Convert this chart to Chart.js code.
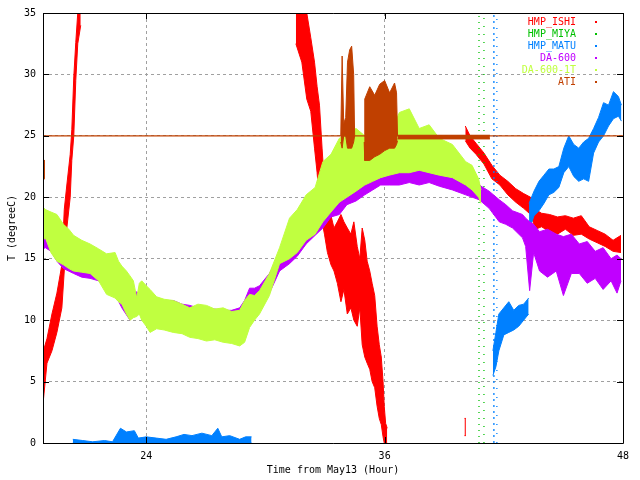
<!DOCTYPE html>
<html>
<head>
<meta charset="utf-8">
<script src="https://cdn.jsdelivr.net/npm/chart.js@4"></script>
<style>
  html, body { margin: 0; padding: 0; background: #fff; }
  canvas { display: block; }
</style>
</head>
<body>
<canvas id="chart" width="640" height="480"></canvas>
<script>
// axis ticks
const xTicks = [24, 36, 48];
const yTicks = [0, 5, 10, 15, 20, 25, 30, 35];

// HMP_ISHI (red) - low/high envelope of the noisy trace
const ishiRiseHour = [18.82, 19.0, 19.25, 19.5, 19.75, 19.87, 20.0, 20.17, 20.25, 20.35, 20.45, 20.55, 20.7];
const ishiRiseLow  = [3.5, 6.5, 7.5, 9, 11, 14, 17.5, 20, 23, 25, 29.5, 32.5, 34];
const ishiRiseHigh = [7.5, 8.5, 10.5, 12.2, 14.5, 19, 21, 23.5, 25.5, 29.8, 32.6, 35, 35];

const ishiFallHour = [31.53, 31.83, 32.08, 32.28, 32.47, 32.6, 32.72, 32.85, 32.97, 33.12, 33.3, 33.45, 33.62, 33.8, 33.95, 34.12, 34.3, 34.45, 34.62, 34.75, 34.87, 35.0, 35.12, 35.25, 35.37, 35.5, 35.62, 35.73, 35.83, 35.92, 35.98, 36.05, 36.13];
const ishiFallLow  = [32.5, 31, 28, 27, 24, 22, 19.5, 18, 17, 15.5, 14.5, 14, 13, 11.5, 12.5, 10.5, 11, 10, 9.5, 11, 8, 7, 6.5, 6, 5, 4.5, 3, 2, 1.5, 0.5, 0, 0, 0];
const ishiFallHigh = [35, 35, 35, 33, 31, 29, 27.5, 24, 21, 19.5, 18.5, 17.5, 18, 18.6, 18, 17.5, 17, 18, 16, 15, 17.5, 16.5, 14.8, 14, 13, 12, 9.5, 8, 7, 5, 3, 1.6, 1.2];

const ishiLateHour = [40.06, 40.3, 40.6, 41.0, 41.4, 41.8, 42.2, 42.6, 43.0, 43.35, 43.6, 43.9, 44.3, 44.7, 45.1, 45.5, 45.9, 46.3, 46.7, 47.1, 47.5, 47.9];
const ishiLateLow  = [24.6, 24.0, 23.5, 22.7, 21.5, 21.0, 20.2, 19.6, 19.1, 18.6, 17.4, 17.6, 17.2, 17.0, 17.4, 16.9, 17.0, 16.6, 16.3, 16.0, 15.6, 15.5];
const ishiLateHigh = [25.8, 25.0, 24.4, 23.6, 22.6, 21.8, 21.3, 20.7, 20.3, 20.0, 19.0, 18.7, 18.6, 18.4, 18.5, 18.3, 18.5, 17.6, 17.3, 17.0, 16.5, 16.9];

const ishiBlipHour = [40.02, 40.09];
const ishiBlipLow  = [0.6, 0.6];
const ishiBlipHigh = [2.0, 2.0];

// HMP_MIYA (green) and HMP_MATU (blue) - scattered dots in narrow columns
const miyaColumnHour = [40.75, 41.0];
const matuColumnHour = [41.5, 41.65];
const columnSpan = [0, 35];

// HMP_MATU (blue)
const matuLowHour = [20.3, 20.8, 21.3, 21.9, 22.3, 22.7, 23.0, 23.4, 23.6, 24.0, 24.5, 25.0, 25.5, 25.9, 26.3, 26.8, 27.3, 27.6, 27.8, 28.2, 28.7, 29.0, 29.3];
const matuLowHigh = [0.3, 0.2, 0.1, 0.2, 0.1, 1.2, 0.9, 1.0, 0.4, 0.5, 0.4, 0.3, 0.5, 0.7, 0.6, 0.8, 0.6, 1.2, 0.5, 0.6, 0.3, 0.5, 0.5];
const matuLowLow  = [0, 0, 0, 0, 0, 0, 0, 0, 0, 0, 0, 0, 0, 0, 0, 0, 0, 0, 0, 0, 0, 0, 0];

const matuMidHour = [41.45, 41.6, 41.75, 42.0, 42.25, 42.5, 42.75, 43.0, 43.25];
const matuMidLow  = [5.5, 6.2, 7.5, 8.8, 9.0, 9.2, 9.5, 10.0, 10.5];
const matuMidHigh = [7.5, 9, 10.5, 11, 11.5, 10.8, 11.2, 11.3, 11.8];

const matuLateHour = [43.27, 43.52, 43.77, 44.02, 44.27, 44.52, 44.77, 45.02, 45.27, 45.52, 45.77, 46.02, 46.27, 46.52, 46.77, 47.02, 47.27, 47.52, 47.77, 47.92];
const matuLateLow  = [17.3, 18.5, 18.9, 19.5, 20.2, 20.4, 20.8, 22.0, 22.5, 21.7, 21.3, 21.5, 21.3, 23.6, 24.5, 25.0, 25.8, 26.4, 26.6, 26.2];
const matuLateHigh = [19.5, 20.5, 21.3, 21.8, 22.3, 22.3, 22.5, 24.0, 25.0, 24.3, 24.0, 24.5, 24.8, 25.6, 26.5, 27.7, 27.5, 28.6, 28.2, 27.5];

// DA-600 (purple)
const da600Hour = [18.8, 18.92, 19.2, 19.5, 19.83, 20.34, 20.75, 21.17, 21.6, 22.0,
  22.43, 22.77, 23.18, 23.52, 23.77, 24.19, 24.52, 24.9, 25.36, 25.8,
  26.19, 26.6, 27.03, 27.45, 27.87, 28.3, 28.7, 28.95, 29.2, 29.45,
  29.7, 30.2, 30.71, 31.21, 31.6, 32.05, 32.5, 32.89, 33.3, 33.72,
  34.1, 34.56, 35.0, 35.4, 35.8, 36.23, 36.74, 37.24, 37.74, 38.24,
  38.75, 39.41, 40.08, 40.76, 41.26, 41.77, 42.1, 42.44, 42.94, 43.1,
  43.3, 43.5, 43.8, 44.2, 44.64, 45.0, 45.4, 45.8, 46.2, 46.6,
  47.0, 47.4, 47.7, 47.9];
const da600Low = [15.8, 15.9, 15.6, 14.8, 14.2, 13.8, 13.5, 13.4, 13.2, 12.6,
  12.1, 11.0, 10.0, 10.8, 10.5, 10.3, 10.2, 10.3, 10.2, 10.0,
  9.8, 9.8, 9.7, 9.5, 9.5, 9.4, 9.6, 10.0, 10.8, 11.0,
  11.2, 12.2, 14.0, 14.6, 15.2, 16.2, 16.9, 17.5, 18.4, 18.6,
  19.4, 19.7, 20.2, 20.6, 21.0, 21.0, 21.0, 21.2, 21.0, 21.2,
  20.9, 20.6, 20.2, 19.8, 19.1, 18.0, 17.8, 17.5, 16.7, 16.0,
  12.4, 15.5, 14.0, 13.5, 14.0, 12.0, 13.8, 13.8, 13.0, 13.4,
  12.5, 13.2, 12.2, 13.2];
const da600High = [17.3, 17.0, 16.6, 16.0, 15.4, 14.8, 14.6, 14.6, 14.3, 13.8,
  13.3, 12.6, 12.2, 12.3, 12.0, 11.8, 11.6, 11.6, 11.6, 11.3,
  11.2, 11.0, 10.9, 10.9, 10.8, 10.8, 11.0, 11.6, 12.6, 12.6,
  12.8, 13.8, 15.4, 16.0, 16.6, 17.5, 18.0, 18.6, 19.2, 19.6,
  20.3, 20.8, 21.3, 21.6, 22.0, 22.1, 22.2, 22.3, 22.2, 22.3,
  22.0, 21.8, 21.4, 21.0, 20.5, 19.8, 19.4, 18.9, 18.6, 18.3,
  18.0, 17.8, 17.2, 17.4, 17.0, 16.8, 17.0, 16.2, 16.4, 15.6,
  15.9, 15.0, 15.3, 15.0];

// DA-600-1T (yellow green)
const da1tHour = [18.8, 18.92, 19.2, 19.5, 19.83, 20.1, 20.34, 20.75, 21.17, 21.6,
  22.0, 22.43, 22.6, 22.77, 23.0, 23.18, 23.35, 23.52, 23.65, 23.77,
  24.0, 24.19, 24.52, 24.9, 25.36, 25.8, 26.19, 26.6, 27.03, 27.45,
  27.87, 28.3, 28.7, 28.95, 29.2, 29.45, 29.7, 30.2, 30.71, 31.21,
  31.6, 32.05, 32.5, 32.89, 33.3, 33.72, 34.1, 34.56, 35.0, 35.4,
  35.8, 36.23, 36.74, 37.24, 37.74, 38.24, 38.75, 39.41, 40.08, 40.4,
  40.73, 40.85];
const da1tHigh = [19.2, 19.0, 18.8, 18.6, 17.8, 17.4, 16.9, 16.5, 16.2, 15.8,
  15.4, 15.5, 14.8, 14.4, 14.0, 13.6, 13.2, 11.8, 13.0, 13.2,
  12.8, 12.5, 11.9, 11.7, 11.6, 11.3, 11.0, 11.3, 11.2, 10.9,
  11.0, 10.7, 10.8, 11.6, 12.1, 12.0, 12.4, 13.8, 15.9, 18.3,
  19.0, 20.2, 20.8, 22.9, 23.5, 24.8, 25.2, 25.6, 25.0, 24.8,
  24.6, 24.8, 26.9, 27.2, 25.6, 25.9, 24.8, 24.3, 22.9, 22.6,
  21.5, 20.6];
const da1tLow = [16.5, 16.7, 15.5, 14.8, 14.5, 14.2, 14.0, 13.9, 13.8, 13.2,
  12.1, 11.8, 11.5, 11.3, 10.5, 10.0, 10.2, 10.3, 10.5, 10.0,
  9.5, 9.0, 9.3, 9.2, 9.0, 8.9, 8.6, 8.5, 8.3, 8.4,
  8.2, 8.1, 7.9, 8.2, 9.4, 10.0, 10.5, 12.0, 14.6, 15.0,
  15.5, 16.5, 17.0, 18.0, 18.8, 19.6, 20.0, 20.5, 21.0, 21.3,
  21.6, 21.8, 22.0, 22.0, 22.2, 22.0, 21.8, 21.6, 21.0, 20.6,
  20.0, 19.5];

// ATI (brown orange)
const atiHour = [18.8, 48];
const atiTemp = [25, 25];
const atiEdgeHour = [18.82, 18.9];
const atiEdgeLow  = [21.5, 21.5];
const atiEdgeHigh = [23.0, 23.0];
const atiBurstAHour = [33.79, 33.86, 33.94, 34.04, 34.13, 34.24, 34.34, 34.44, 34.49];
const atiBurstALow  = [24.5, 24, 25, 25, 24, 24, 24, 24.5, 25];
const atiBurstAHigh = [25, 31.5, 26, 26.5, 31, 32, 32.3, 30, 25];
const atiBurstBHour = [34.97, 35.0, 35.25, 35.5, 35.75, 36.0, 36.25, 36.5, 36.6, 36.65];
const atiBurstBLow  = [24.5, 23.0, 23.0, 23.3, 23.5, 23.8, 24.0, 24.0, 24.3, 24.6];
const atiBurstBHigh = [25, 28.0, 29.0, 28.3, 29.2, 29.5, 28.5, 29.3, 28.5, 25];
const atiFlatHour = [36.65, 41.3];
const atiFlatLow  = [24.75, 24.75];
const atiFlatHigh = [25.05, 25.05];

const seriesNames  = ['HMP_ISHI', 'HMP_MIYA', 'HMP_MATU', 'DA-600', 'DA-600-1T', 'ATI'];
const seriesColors = ['#ff0000', '#00c000', '#0080ff', '#c000ff', '#c0ff40', '#c04000'];

function pts(hours, vals) {
  return hours.map((h, i) => ({ x: h, y: vals[i] }));
}

function band(color, hours, low, high, order) {
  return [
    { data: pts(hours, high), borderColor: color, backgroundColor: color, borderWidth: 1,
      pointRadius: 0, fill: '+1', order: order },
    { data: pts(hours, low), borderColor: color, backgroundColor: color, borderWidth: 1,
      pointRadius: 0, fill: false, order: order }
  ];
}

function column(color, hour, dash) {
  return { data: columnSpan.map(v => ({ x: hour, y: v })), borderColor: color, borderWidth: 1.3,
    borderDash: dash, pointRadius: 0, fill: false, order: 4 };
}

const red = seriesColors[0], green = seriesColors[1], blue = seriesColors[2];
const purple = seriesColors[3], lime = seriesColors[4], brown = seriesColors[5];

const datasets = [
  ...band(red, ishiRiseHour, ishiRiseLow, ishiRiseHigh, 5),
  ...band(red, ishiFallHour, ishiFallLow, ishiFallHigh, 5),
  ...band(red, ishiLateHour, ishiLateLow, ishiLateHigh, 5),
  ...band(red, ishiBlipHour, ishiBlipLow, ishiBlipHigh, 5),
  column(green, miyaColumnHour[0], [1, 5]),
  column(green, miyaColumnHour[1], [1, 7]),
  column(blue, matuColumnHour[0], [2, 4]),
  column(blue, matuColumnHour[1], [1, 8]),
  ...band(blue, matuLowHour, matuLowLow, matuLowHigh, 3),
  ...band(blue, matuMidHour, matuMidLow, matuMidHigh, 3),
  ...band(blue, matuLateHour, matuLateLow, matuLateHigh, 3),
  ...band(purple, da600Hour, da600Low, da600High, 2),
  ...band(lime, da1tHour, da1tLow, da1tHigh, 1),
  ...band(brown, atiEdgeHour, atiEdgeLow, atiEdgeHigh, 0),
  ...band(brown, atiBurstAHour, atiBurstALow, atiBurstAHigh, 0),
  ...band(brown, atiBurstBHour, atiBurstBLow, atiBurstBHigh, 0),
  ...band(brown, atiFlatHour, atiFlatLow, atiFlatHigh, 0),
  { data: pts(atiHour, atiTemp), borderColor: brown, borderWidth: 1.3, pointRadius: 0, fill: false, order: 0 }
];

const px = v => Math.round(v) + 0.5;

// gnuplot-like frame, inward ticks and key
const frame = {
  id: 'frame',
  afterDraw(chart) {
    const ctx = chart.ctx;
    const a = chart.chartArea;
    const xs = chart.scales.x, ys = chart.scales.y;
    ctx.save();
    ctx.strokeStyle = '#000';
    ctx.lineWidth = 1;
    ctx.beginPath();
    ctx.rect(px(a.left), px(a.top), Math.round(a.right - a.left), Math.round(a.bottom - a.top));
    yTicks.forEach(v => {
      const y = px(ys.getPixelForValue(v));
      ctx.moveTo(a.left, y); ctx.lineTo(a.left + 6, y);
      ctx.moveTo(a.right, y); ctx.lineTo(a.right - 6, y);
    });
    xTicks.forEach(v => {
      const x = px(xs.getPixelForValue(v));
      ctx.moveTo(x, a.bottom); ctx.lineTo(x, a.bottom - 6);
      ctx.moveTo(x, a.top); ctx.lineTo(x, a.top + 6);
    });
    ctx.stroke();

    ctx.font = '10px "DejaVu Sans Mono"';
    ctx.textAlign = 'right';
    ctx.textBaseline = 'middle';
    seriesNames.forEach((name, i) => {
      const y = 22 + i * 12;
      ctx.fillStyle = seriesColors[i];
      ctx.fillText(name, 576, y);
      ctx.fillRect(595, y - 1, 2, 2);
    });
    ctx.restore();
  }
};

Chart.defaults.font.family = '"DejaVu Sans Mono", monospace';
Chart.defaults.font.size = 10;
Chart.defaults.color = '#000';

new Chart(document.getElementById('chart'), {
  type: 'line',
  data: { datasets: datasets },
  options: {
    responsive: false,
    animation: false,
    devicePixelRatio: 1,
    layout: { padding: { left: 0, right: 17, top: 11, bottom: 0 } },
    plugins: { legend: { display: false }, tooltip: { enabled: false } },
    scales: {
      x: {
        type: 'linear',
        min: 18.8,
        max: 48,
        afterBuildTicks: s => { s.ticks = xTicks.map(v => ({ value: v })); },
        afterFit: s => { s.height = 37; },
        grid: { color: '#a0a0a0', drawTicks: false },
        border: { display: false, dash: [3, 3] },
        ticks: { padding: 7, maxRotation: 0, autoSkip: false },
        title: { display: true, text: 'Time from May13 (Hour)', padding: { top: 0, bottom: 4 } }
      },
      y: {
        type: 'linear',
        min: 0,
        max: 35,
        afterBuildTicks: s => { s.ticks = yTicks.map(v => ({ value: v })); },
        afterFit: s => { s.width = 43; },
        grid: { color: '#a0a0a0', drawTicks: false },
        border: { display: false, dash: [3, 3] },
        ticks: { padding: 7 },
        title: { display: true, text: 'T (degreeC)', padding: { top: 6, bottom: 0 } }
      }
    }
  },
  plugins: [frame]
});
</script>
</body>
</html>
